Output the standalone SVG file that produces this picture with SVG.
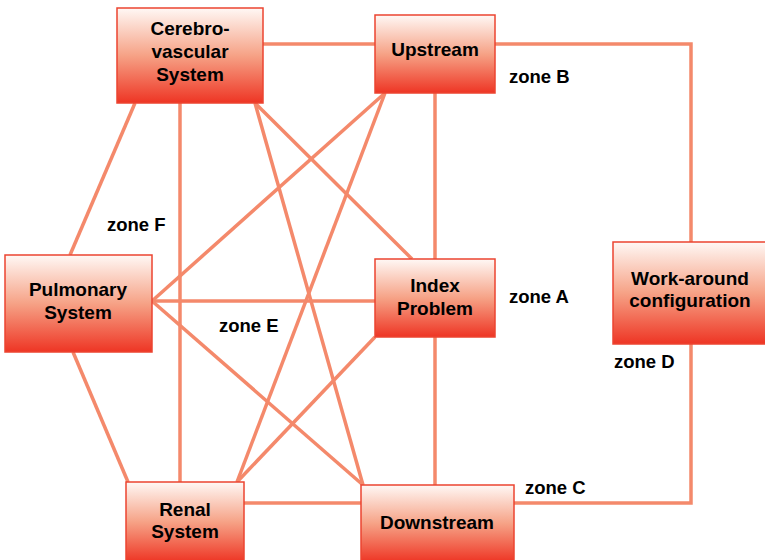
<svg xmlns="http://www.w3.org/2000/svg" width="765" height="560" viewBox="0 0 765 560">
  <defs>
    <linearGradient id="boxFill" x1="0" y1="0" x2="0" y2="1">
      <stop offset="0" stop-color="#fff8f5"/>
      <stop offset="0.5" stop-color="#f6a286"/>
      <stop offset="1" stop-color="#ee3524"/>
    </linearGradient>
  </defs>
  <style>
    .box { fill: url(#boxFill); stroke: #ec4431; stroke-width: 1.5; }
    .link { fill: none; stroke: #f4896b; stroke-width: 3.5; stroke-linejoin: miter; }
    .label { font-family: "Liberation Sans", Arial, sans-serif; font-weight: bold; font-size: 19px; fill: #000; text-anchor: middle; }
    .zone { font-family: "Liberation Sans", Arial, sans-serif; font-weight: bold; font-size: 18.5px; fill: #000; }
  </style>
  <rect width="765" height="560" fill="#ffffff"/>

  <!-- connectors -->
  <g id="connectors">
    <line class="link" x1="263" y1="44" x2="375" y2="44"/>
    <polyline class="link" points="495,44 691,44 691,242"/>
    <polyline class="link" points="691,344 691,503 514,503"/>
    <line class="link" x1="135" y1="103" x2="70" y2="255"/>
    <line class="link" x1="180" y1="103" x2="180" y2="482"/>
    <line class="link" x1="255" y1="103" x2="412" y2="259"/>
    <line class="link" x1="255" y1="103" x2="363" y2="485"/>
    <line class="link" x1="385" y1="93" x2="152" y2="301"/>
    <line class="link" x1="385" y1="93" x2="237" y2="482"/>
    <line class="link" x1="435" y1="93" x2="435" y2="259"/>
    <line class="link" x1="152" y1="301" x2="375" y2="301"/>
    <line class="link" x1="152" y1="301" x2="363" y2="485"/>
    <line class="link" x1="73" y1="352" x2="128" y2="482"/>
    <line class="link" x1="375" y1="337" x2="237" y2="482"/>
    <line class="link" x1="435" y1="337" x2="435" y2="485"/>
    <line class="link" x1="244" y1="503" x2="361" y2="503"/>
  </g>

  <!-- nodes -->
  <g id="cerebrovascular">
    <rect class="box" x="117" y="8" width="146" height="95"/>
    <text class="label" x="190" y="35">Cerebro-</text>
    <text class="label" x="190" y="58">vascular</text>
    <text class="label" x="190" y="81">System</text>
  </g>
  <g id="upstream">
    <rect class="box" x="375" y="15" width="120" height="78"/>
    <text class="label" x="435" y="56">Upstream</text>
  </g>
  <g id="index-problem">
    <rect class="box" x="375" y="259" width="120" height="78"/>
    <text class="label" x="435" y="292">Index</text>
    <text class="label" x="435" y="315">Problem</text>
  </g>
  <g id="work-around">
    <rect class="box" x="613" y="242" width="154" height="102"/>
    <text class="label" x="690" y="285">Work-around</text>
    <text class="label" x="690" y="307">configuration</text>
  </g>
  <g id="pulmonary">
    <rect class="box" x="5" y="255" width="147" height="97"/>
    <text class="label" x="78" y="296">Pulmonary</text>
    <text class="label" x="78" y="319">System</text>
  </g>
  <g id="renal">
    <rect class="box" x="126" y="482" width="118" height="80"/>
    <text class="label" x="185" y="516">Renal</text>
    <text class="label" x="185" y="538">System</text>
  </g>
  <g id="downstream">
    <rect class="box" x="361" y="485" width="153" height="77"/>
    <text class="label" x="437" y="529">Downstream</text>
  </g>

  <!-- zone labels -->
  <g id="zones">
    <text class="zone" x="509" y="83">zone B</text>
    <text class="zone" x="107" y="231">zone F</text>
    <text class="zone" x="509" y="303">zone A</text>
    <text class="zone" x="219" y="332">zone E</text>
    <text class="zone" x="614" y="368">zone D</text>
    <text class="zone" x="525" y="494">zone C</text>
  </g>
</svg>
